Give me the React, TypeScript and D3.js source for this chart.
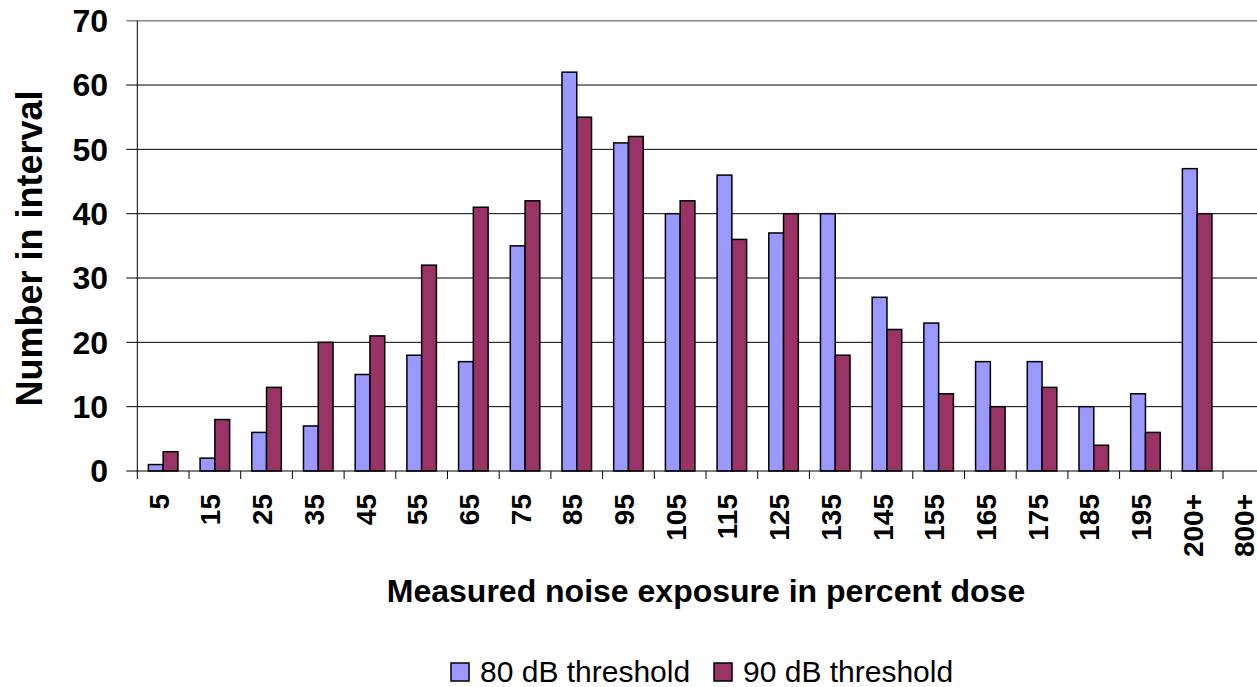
import React from "react";
import * as d3 from "d3";

const categories = ["5","15","25","35","45","55","65","75","85","95","105","115","125","135","145","155","165","175","185","195","200+","800+"];
const series80 = [1,2,6,7,15,18,17,35,62,51,40,46,37,40,27,23,17,17,10,12,47,null];
const series90 = [3,8,13,20,21,32,41,42,55,52,42,36,40,18,22,12,10,13,4,6,40,null];
const seriesNames = ["80 dB threshold", "90 dB threshold"];
const seriesColors = ["#9999FF", "#993366"];
const yTicks = [0,10,20,30,40,50,60,70];

const W = 1257, H = 687;
const FONT = "Arial, 'Liberation Sans', sans-serif";

export default function App() {
  const left = 137.3, step = 51.7;
  const right = left + categories.length * step;
  const top = 20.7, bottom = 471;
  const x = d3.scaleBand<string>().domain(categories).range([left, right]).paddingInner(0).paddingOuter(0);
  const y = d3.scaleLinear().domain([0, 70]).range([bottom, top]);
  const bw = x.bandwidth() / 3.5;
  const x1 = d3.scaleBand<string>().domain(seriesNames).range([0.75 * bw, 2.75 * bw]);
  const clipR = Math.min(right, W);
  const data = [series80, series90];

  return (
    <svg width={W} height={H} style={{ position: "absolute", left: 0, top: 0, display: "block" }} fontFamily={FONT}>
      <rect x={0} y={0} width={W} height={H} fill="#fff" />
      {/* gridlines */}
      {yTicks.filter(t => t > 0 && t < 70).map(t => (
        <line key={t} x1={left - 11} x2={clipR} y1={y(t)} y2={y(t)} stroke="#000" strokeWidth={1} />
      ))}
      <line x1={left - 11} x2={clipR} y1={y(70)} y2={y(70)} stroke="#888" strokeWidth={1.5} />
      {/* bars */}
      {data.map((s, si) => (
        <g key={si}>
          {categories.map((c, i) => {
            const v = s[i];
            if (v == null) return null;
            const bx = (x(c) as number) + (x1(seriesNames[si]) as number);
            return (
              <rect key={c} x={bx} y={y(v)} width={x1.bandwidth()} height={y(0) - y(v)}
                fill={seriesColors[si]} stroke="#000" strokeWidth={1.5} />
            );
          })}
        </g>
      ))}
      {/* axes */}
      <line x1={left} x2={left} y1={top} y2={bottom + 8} stroke="#000" strokeWidth={1} />
      <line x1={left - 11} x2={clipR} y1={bottom} y2={bottom} stroke="#000" strokeWidth={1} />
      {categories.map((c, i) => {
        const tx = (x(c) as number) + x.bandwidth();
        return tx <= W ? <line key={c} x1={tx} x2={tx} y1={bottom} y2={bottom + 8} stroke="#000" strokeWidth={1} /> : null;
      })}
      {yTicks.map(t => (
        <text key={t} x={108} y={y(t)} dy="0.35em" textAnchor="end" fontSize={32} fontWeight="bold">{t}</text>
      ))}
      {categories.map(c => {
        const cx = (x(c) as number) + x.bandwidth() / 2;
        return (
          <text key={c} transform={`translate(${cx},494) rotate(-90)`} dy="0.2em" textAnchor="end" fontSize={28} fontWeight="bold">{c}</text>
        );
      })}
      {/* titles */}
      <text transform={`translate(41.7,248.5) rotate(-90)`} textAnchor="middle" fontSize={36} fontWeight="bold">Number in interval</text>
      <text x={(left + right) / 2} y={602} textAnchor="middle" fontSize={32} fontWeight="bold">Measured noise exposure in percent dose</text>
      {/* legend */}
      <rect x={451} y={663} width={18} height={18} fill={seriesColors[0]} stroke="#000" strokeWidth={1.5} />
      <text x={480} y={681.7} fontSize={30}>{seriesNames[0]}</text>
      <rect x={714} y={663} width={18} height={18} fill={seriesColors[1]} stroke="#000" strokeWidth={1.5} />
      <text x={743} y={681.7} fontSize={30}>{seriesNames[1]}</text>
    </svg>
  );
}
